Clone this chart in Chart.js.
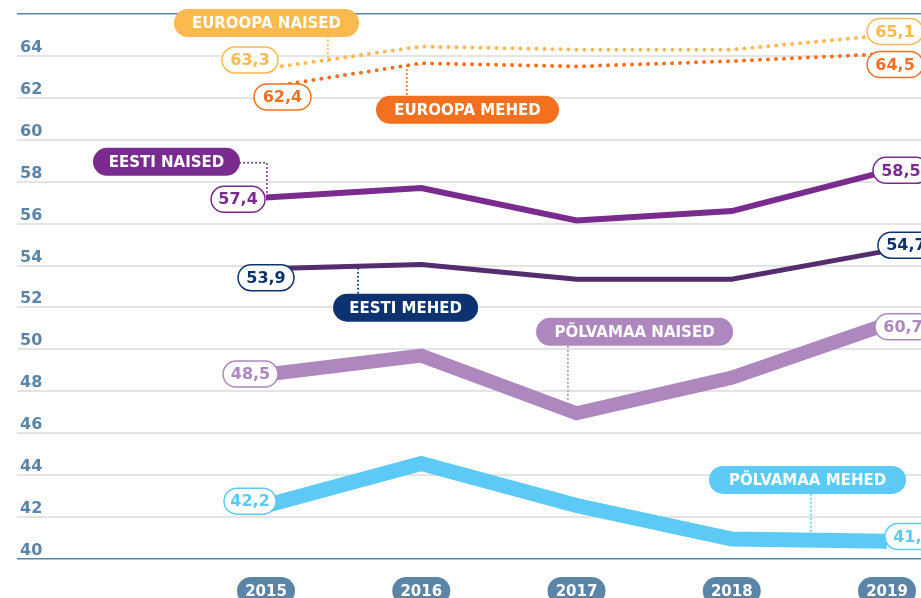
<!DOCTYPE html>
<html lang="et">
  <head>
    <meta charset="UTF-8" />
    <title>Eeldatav eluiga</title>
    <script src="https://cdn.jsdelivr.net/npm/chart.js"></script>
    <style>
      body { margin: 0; background: #fff; }
      #wrap { width: 921px; height: 598px; position: relative; }
    </style>
  </head>
  <body>
    <div id="wrap"><canvas id="chart"></canvas></div>
    <script>
      // data
      const years = [2015, 2016, 2017, 2018, 2019];
      const euroopaNaised = [63.4, 64.45, 64.3, 64.3, 65.0];
      const euroopaMehed = [62.5, 63.65, 63.5, 63.75, 64.1];
      const eestiNaised = [57.25, 57.7, 56.15, 56.6, 58.5];
      const eestiMehed = [53.85, 54.05, 53.35, 53.35, 54.7];
      const polvamaaNaised = [48.8, 49.7, 46.95, 48.65, 51.2];
      const polvamaaMehed = [42.55, 44.55, 42.55, 40.95, 40.85];
      const seriesNames = ['EUROOPA NAISED', 'EUROOPA MEHED', 'EESTI NAISED', 'EESTI MEHED', 'PÕLVAMAA NAISED', 'PÕLVAMAA MEHED'];
      const firstLabels = ['63,3', '62,4', '57,4', '53,9', '48,5', '42,2'];
      const lastLabels = ['65,1', '64,5', '58,5', '54,7', '60,7', '41,0'];
      const yTicks = [40, 42, 44, 46, 48, 50, 52, 54, 56, 58, 60, 62, 64];

      // styles
      const lineColors = ['#fcb94d', '#f37021', '#7a2c8e', '#542d6e', '#ad87be', '#5ccaf5'];
      const labelColors = ['#fcb94d', '#f37021', '#7a2c8e', '#0d3270', '#ad87be', '#5ccaf5'];
      const lineWidths = [4, 4, 6, 5, 14, 15];
      const dotted = [true, true, false, false, false, false];
      const axisColor = '#5b85a7';
      const gridColor = '#e4e4e4';
      const font = '"DejaVu Sans", sans-serif';

      // label placement in chart units: [year, value, width]
      const nameBoxes = [
        [2015.003, 65.57, 185], [2016.298, 61.43, 183], [2014.359, 58.95, 147],
        [2015.899, 51.99, 145], [2017.374, 50.84, 197], [2018.488, 43.77, 197]
      ];
      const firstBoxes = [
        [2014.897, 63.81, 56], [2015.106, 62.04, 57], [2014.82, 57.16, 54],
        [2015.0, 53.42, 56], [2014.9, 48.82, 55], [2014.897, 42.76, 52]
      ];
      const lastBoxes = [
        [2019.052, 65.17, 56], [2019.052, 63.59, 56], [2019.09, 58.54, 56],
        [2019.122, 54.97, 56], [2019.103, 51.08, 56], [2019.167, 41.07, 56]
      ];
      const leaders = [
        [[2015.399, 64.9], [2015.399, 63.71]],
        [[2015.908, 63.52], [2015.908, 62.09]],
        [[2014.833, 58.9], [2015.006, 58.9], [2015.006, 57.47]],
        [[2015.593, 53.85], [2015.593, 52.66]],
        [[2016.945, 50.13], [2016.945, 47.51]],
        [[2018.51, 43.07], [2018.51, 41.26]]
      ];

      const series = [euroopaNaised, euroopaMehed, eestiNaised, eestiMehed, polvamaaNaised, polvamaaMehed];

      function pill(ctx, cx, cy, w, h, fill, stroke, text, color, size) {
        ctx.beginPath();
        ctx.roundRect(cx - w / 2, cy - h / 2, w, h, h / 2);
        ctx.fillStyle = fill;
        ctx.fill();
        if (stroke) {
          ctx.lineWidth = 1.5;
          ctx.strokeStyle = stroke;
          ctx.stroke();
        }
        ctx.fillStyle = color;
        ctx.font = 'bold ' + size + 'px ' + font;
        ctx.textAlign = 'center';
        ctx.textBaseline = 'middle';
        ctx.fillText(text, cx, cy + 1);
      }

      const labelsPlugin = {
        id: 'labels',
        afterDraw(chart) {
          const { ctx, chartArea } = chart;
          const xs = chart.scales.x, ys = chart.scales.y;
          ctx.save();
          // y tick labels
          ctx.fillStyle = axisColor;
          ctx.font = 'bold 16px ' + font;
          ctx.textAlign = 'left';
          ctx.textBaseline = 'alphabetic';
          yTicks.forEach(t => ctx.fillText(String(t), chartArea.left + 3, ys.getPixelForValue(t) - 4));
          // year pills
          years.forEach(y => pill(ctx, xs.getPixelForValue(y), chartArea.bottom + 32, 58, 28, axisColor, null, String(y), '#fff', 15));
          // leaders
          leaders.forEach((pts, i) => {
            ctx.beginPath();
            pts.forEach((p, j) => {
              const px = xs.getPixelForValue(p[0]), py = ys.getPixelForValue(p[1]);
              j ? ctx.lineTo(px, py) : ctx.moveTo(px, py);
            });
            ctx.setLineDash([0, 4]);
            ctx.lineCap = 'round';
            ctx.lineWidth = 2;
            ctx.strokeStyle = labelColors[i];
            ctx.stroke();
            ctx.setLineDash([]);
          });
          // value and name pills
          seriesNames.forEach((name, i) => {
            const c = labelColors[i];
            let b = firstBoxes[i];
            pill(ctx, xs.getPixelForValue(b[0]), ys.getPixelForValue(b[1]), b[2], 26, '#fff', c, firstLabels[i], c, 16);
            b = lastBoxes[i];
            pill(ctx, xs.getPixelForValue(b[0]), ys.getPixelForValue(b[1]), b[2], 26, '#fff', c, lastLabels[i], c, 16);
            b = nameBoxes[i];
            pill(ctx, xs.getPixelForValue(b[0]), ys.getPixelForValue(b[1]), b[2], 28, c, null, name, '#fff', 15);
          });
          ctx.restore();
        }
      };

      new Chart(document.getElementById('chart'), {
        type: 'line',
        data: {
          labels: years,
          datasets: series.map((d, i) => ({
            label: seriesNames[i],
            data: d,
            borderColor: lineColors[i],
            borderWidth: lineWidths[i],
            borderDash: dotted[i] ? [0, 8] : [],
            borderCapStyle: dotted[i] ? 'round' : 'butt',
            borderJoinStyle: 'miter',
            pointRadius: 0,
            tension: 0,
            fill: false
          }))
        },
        options: {
          responsive: true,
          maintainAspectRatio: false,
          animation: false,
          layout: { padding: { left: 17, top: 14, right: 0, bottom: 39 } },
          plugins: { legend: { display: false }, tooltip: { enabled: false } },
          scales: {
            x: {
              type: 'linear',
              min: 2013.396,
              max: 2019.219,
              display: false
            },
            y: {
              min: 40,
              max: 66,
              ticks: { stepSize: 2, display: false },
              border: { display: false },
              grid: {
                drawTicks: false,
                color: c => (c.tick.value === 40 || c.tick.value === 66) ? axisColor : gridColor,
                lineWidth: c => (c.tick.value === 40 || c.tick.value === 66) ? 1.5 : 2
              },
              afterFit: s => { s.width = 0; }
            }
          }
        },
        plugins: [labelsPlugin]
      });
    </script>
  </body>
</html>
